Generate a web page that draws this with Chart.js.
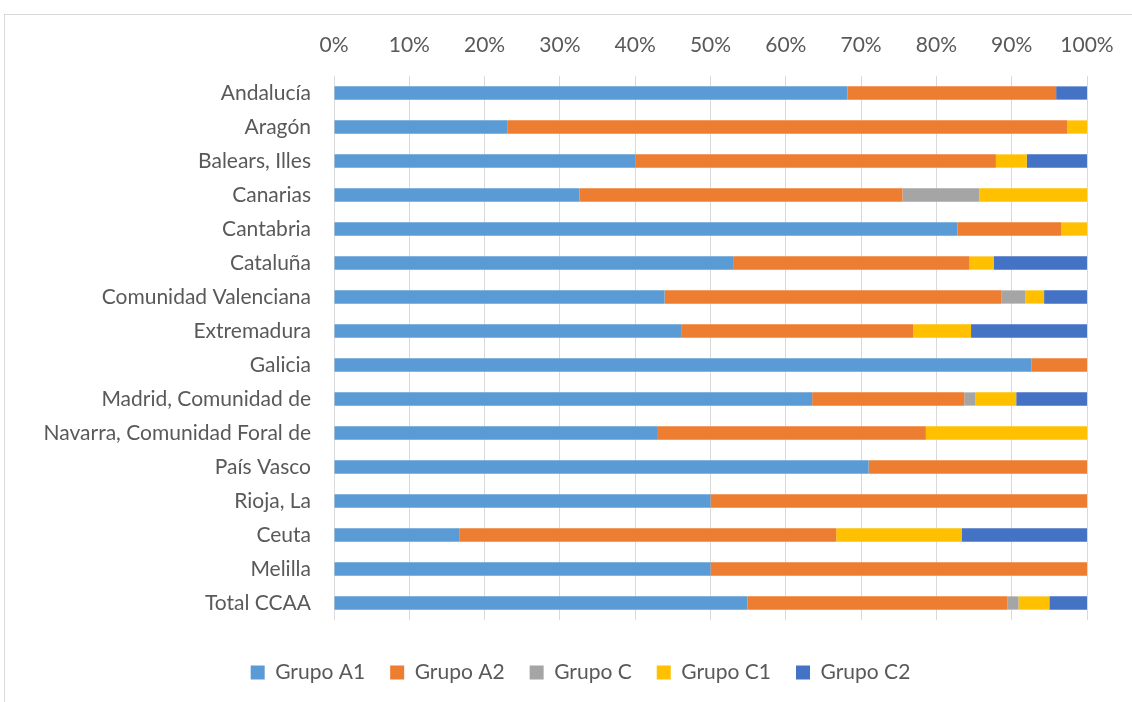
<!doctype html>
<html lang="es">

<head>
    <meta charset="utf-8">
    <title>Grupos por CCAA</title>
    <style>
        * {
            margin: 0;
            padding: 0;
        }

        body {
            width: 1132px;
            height: 702px;
            overflow: hidden;
            background: white;
            position: relative;
        }

        .frame {
            position: absolute;
            left: 4px;
            top: 14px;
            width: 1200px;
            height: 800px;
            border: 1px solid #d9d9d9;
        }

        canvas {
            position: absolute;
            left: 0;
            top: 0;
        }
    </style>
</head>

<body>
    <div class="frame"></div>
    <canvas id="myChart" width="1132" height="702"></canvas>
    <script src="https://cdn.jsdelivr.net/npm/chart.js"></script>
    <script>
        // categorias (comunidades)
        const regiones = [
            'Andalucía', 'Aragón', 'Balears, Illes', 'Canarias', 'Cantabria', 'Cataluña',
            'Comunidad Valenciana', 'Extremadura', 'Galicia', 'Madrid, Comunidad de',
            'Navarra, Comunidad Foral de', 'País Vasco', 'Rioja, La', 'Ceuta', 'Melilla', 'Total CCAA'
        ]

        // porcentajes
        const grupoA1 = [68.2, 23.0, 40.0, 32.6, 82.8, 53.1, 43.9, 46.1, 92.6, 63.5, 42.9, 71.0, 50.0, 16.7, 50.0, 54.9]
        const grupoA2 = [27.7, 74.4, 47.9, 42.9, 13.8, 31.3, 44.7, 30.8, 7.4, 20.2, 35.7, 29.0, 50.0, 50.0, 50.0, 34.5]
        const grupoC = [0, 0, 0, 10.2, 0, 0, 3.2, 0, 0, 1.5, 0, 0, 0, 0, 0, 1.5]
        const grupoC1 = [0, 2.6, 4.1, 14.3, 3.4, 3.2, 2.5, 7.7, 0, 5.4, 21.4, 0, 0, 16.7, 0, 4.1]
        const grupoC2 = [4.1, 0, 8.0, 0, 0, 12.4, 5.7, 15.4, 0, 9.4, 0, 0, 0, 16.6, 0, 5.0]

        const xTicks = [0, 10, 20, 30, 40, 50, 60, 70, 80, 90, 100]

        const txt = '#595959'
        const fontFam = 'Lato, "Noto Sans", sans-serif'

        const mk = (label, data, color) => ({
            label: label,
            data: data,
            backgroundColor: color,
            borderWidth: 0,
            barPercentage: 0.39,
            categoryPercentage: 1,
            xAxisID: 'x'
        })

        const data = {
            labels: regiones,
            datasets: [
                mk('Grupo A1', grupoA1, '#5B9BD5'),
                mk('Grupo A2', grupoA2, '#ED7D31'),
                mk('Grupo C', grupoC, '#A5A5A5'),
                mk('Grupo C1', grupoC1, '#FFC000'),
                mk('Grupo C2', grupoC2, '#4472C4')
            ]
        }

        // the legend sits a bit right of the centre in the original
        let shiftLegend = {
            id: 'shiftLegend',
            afterLayout(chart) {
                if (chart.legend) chart.legend.left += 74
            }
        }

        const config = {
            type: 'bar',
            data,
            options: {
                indexAxis: 'y',
                responsive: false,
                animation: false,
                layout: {
                    padding: { left: 0, right: 45, top: 0, bottom: 9 }
                },
                scales: {
                    x: {
                        position: 'top',
                        stacked: true,
                        min: 0,
                        max: 100,
                        afterBuildTicks: (s) => { s.ticks = xTicks.map(v => ({ value: v })) },
                        afterFit: (s) => { s.height = 76 },
                        grid: {
                            color: '#d9d9d9',
                            lineWidth: 1,
                            drawTicks: false
                        },
                        border: { display: false },
                        ticks: {
                            color: txt,
                            padding: 18,
                            font: { family: fontFam, size: 21 },
                            callback: (v) => v + '%'
                        }
                    },
                    xgap: {
                        type: 'linear',
                        axis: 'x',
                        position: 'bottom',
                        display: true,
                        grid: { display: false, drawTicks: false },
                        border: { display: false },
                        ticks: { display: false },
                        afterFit: (s) => { s.height = 17 }
                    },
                    y: {
                        stacked: true,
                        grid: { display: false, drawTicks: false },
                        border: { display: false },
                        afterFit: (s) => { s.width = 334 },
                        ticks: {
                            color: txt,
                            padding: 23,
                            font: { family: fontFam, size: 21 }
                        }
                    }
                },
                plugins: {
                    legend: {
                        position: 'bottom',
                        labels: {
                            color: txt,
                            boxWidth: 14,
                            boxHeight: 14,
                            padding: 25,
                            font: { family: fontFam, size: 21 }
                        }
                    },
                    tooltip: { enabled: false }
                }
            },
            plugins: [shiftLegend]
        }

        const myChart = new Chart(document.getElementById('myChart'), config)
    </script>
</body>

</html>
